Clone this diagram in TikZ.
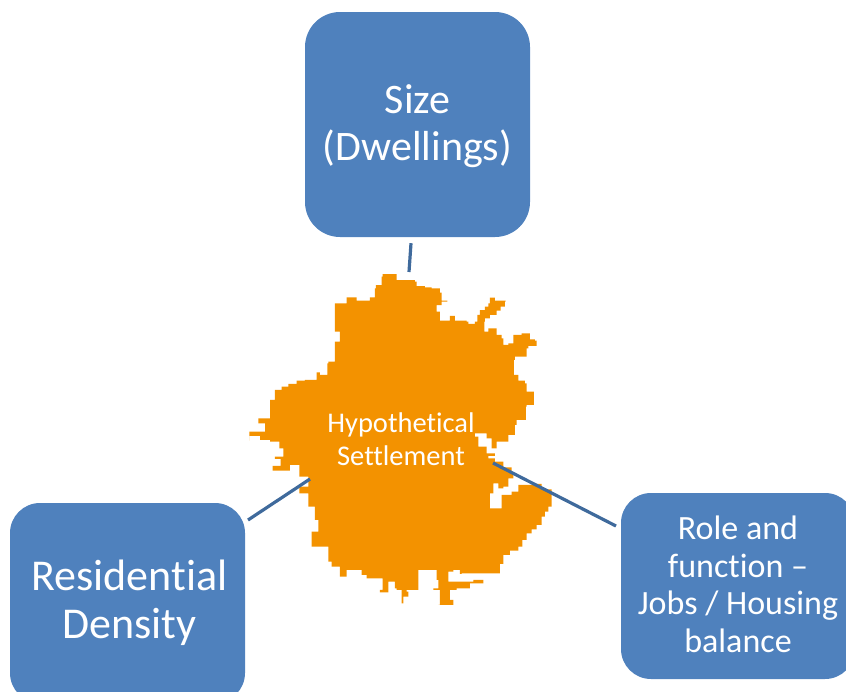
\documentclass[tikz,border=0pt]{standalone}
\usepackage{fontspec}
\setmainfont[RawFeature=-liga]{Carlito}
\usepackage{tikz}
\usetikzlibrary{positioning}
\usetikzlibrary{calc}
\definecolor{boxblue}{HTML}{4F81BD}
\definecolor{linkblue}{HTML}{3F6A9C}
\definecolor{blob}{HTML}{F39200}
\tikzset{
    box/.style={fill=boxblue, rounded corners=#1, text=white, align=center, inner sep=0pt},
    link/.style={draw=linkblue, line width=3.2pt}
}

\begin{document}
\begin{tikzpicture}[x=1pt, y=-1pt]
    \useasboundingbox (0, 0) rectangle (846, 691);
    \clip (0, 0) rectangle (846, 691);

    % settlement outline, traced from the 3x crop
    \begin{scope}[shift={(240, 260)}, scale=.3333]
        \fill[blob] (437,42) -| (465,42) -| (470,60) -| (525,65) -| (530,78) -| (555,82) -| (575,85) -| (600,98) -| (605,122) -| (622,125) -| (605,135) -| (590,155) -| (600,182)
            -| (628,182) -| (630,168) -| (643,168) -| (645,182) -| (680,185) -| (685,192) -| (705,185) -| (712,165) -| (720,150) -| (735,140) -| (745,130) -| (750,113) -| (765,122) -| (797,125)
            -| (795,140) -| (782,152) -| (770,165) -| (750,175) -| (735,185) -| (733,215) -| (745,205) -| (765,205) -| (770,225) -| (785,235) -| (790,255) -| (805,250) -| (820,225) -| (845,220)
            -| (870,238) -| (885,242) -| (890,258) -| (865,265) -| (860,290) -| (825,300) -| (822,345) -| (835,362) -| (855,370) -| (860,395) -| (882,408) -| (882,435)
            -| (860,440) -| (858,480) -| (830,495) -| (825,525) -| (805,545) -| (770,565) -| (755,535) -| (740,520) -| (705,530) -| (715,560) -| (740,580) -| (765,588)
            -| (745,595) -| (765,605) -| (790,622) -| (815,640) -| (820,655) -| (805,680) -| (790,685) -| (775,670) -| (760,700) -| (750,710) -- (750,745) -- (775,745) -| (785,705)
            -| (815,695) -| (835,675) -| (880,672) -| (905,688) -| (935,705) |- (925,740) |- (915,755) |- (905,770) |- (890,795) |- (875,808) |- (860,820) |- (847,840) |- (835,860) |- (810,872) |- (790,885) |- (780,912) |- (770,940) -| (665,942)
            -| (660,930) -| (640,935) -| (625,965) -| (660,965) -| (700,960) -| (730,970) -| (690,985) -| (650,990) -| (630,1020) -| (640,1035) -| (595,1035) -| (600,990)
            -| (580,985) -| (595,960) -| (590,930) -| (540,930) -| (535,990) -| (500,995) -| (505,1010) -| (490,1030) -| (485,990) -| (470,985) -| (465,965) -| (455,965)
            -| (445,997) -| (420,990) -| (428,955) -| (380,945) -| (365,930) -| (320,950) -| (300,920) -| (275,905) -| (265,860) -| (215,830) -| (215,815) -| (235,780)
            -| (225,740) -| (205,700) -| (180,700) -| (178,680) -- (205,680) -- (205,650) -- (178,650) -- (178,615) -- (150,615) -- (150,632) -- (98,632) -- (98,618) -- (122,618) -- (122,597) -- (105,597) -- (105,590) -- (130,590)
            -| (130,565) -| (118,545) -| (90,540) -| (60,528) -| (28,542) -| (28,515) -| (75,510) |- (55,490) |- (90,475) |- (105,420) |- (125,390) |- (145,380) |- (170,372) |- (195,362) |- (230,360)
            |- (240,337) |- (262,345) |- (265,310) |- (285,305) |- (300,265) -| (285,245) -| (300,215) -| (285,175) |- (285,155) |- (320,130) |- (322,112) |- (350,112)
            |- (355,122) |- (390,122) |- (405,112) |- (408,85) |- (425,75) |- (428,50) |- cycle;
    \end{scope}

    \node[box=35pt, minimum width=225pt, minimum height=225pt, font=\fontsize{42}{47}\selectfont] (size) at (417.5, 124.5) {\rule{0pt}{33pt}Size\\(Dwellings)};
    \node[box=30pt, minimum width=235pt, minimum height=200pt, font=\fontsize{44}{48}\selectfont] (density) at (127.5, 603) {\hspace*{4pt}Residential\\\hspace*{4pt}Density};
    \node[box=30pt, minimum width=234pt, minimum height=186pt, font=\fontsize{34}{37.5}\selectfont] (role) at (738, 586) {Role and\\function --\\Jobs / Housing\\\rule[-4pt]{0pt}{0pt}balance};
    \node[text=white, align=center, font=\fontsize{28.5}{33}\selectfont] (settlement) at (401, 439) {Hypothetical\\Settlement};

    \coordinate (sizefoot) at ($(size.south)+(-6.5, 6)$);
    \coordinate (sizeend) at (409, 272);
    \coordinate (densityfoot) at (248, 520);
    \coordinate (densityend) at (310, 479);
    \coordinate (rolefoot) at (616, 526);
    \coordinate (roleend) at (493, 463);

    \draw[link] (sizefoot) -- (sizeend);
    \draw[link] (densityfoot) -- (densityend);
    \draw[link] (rolefoot) -- (roleend);
\end{tikzpicture}
\end{document}
